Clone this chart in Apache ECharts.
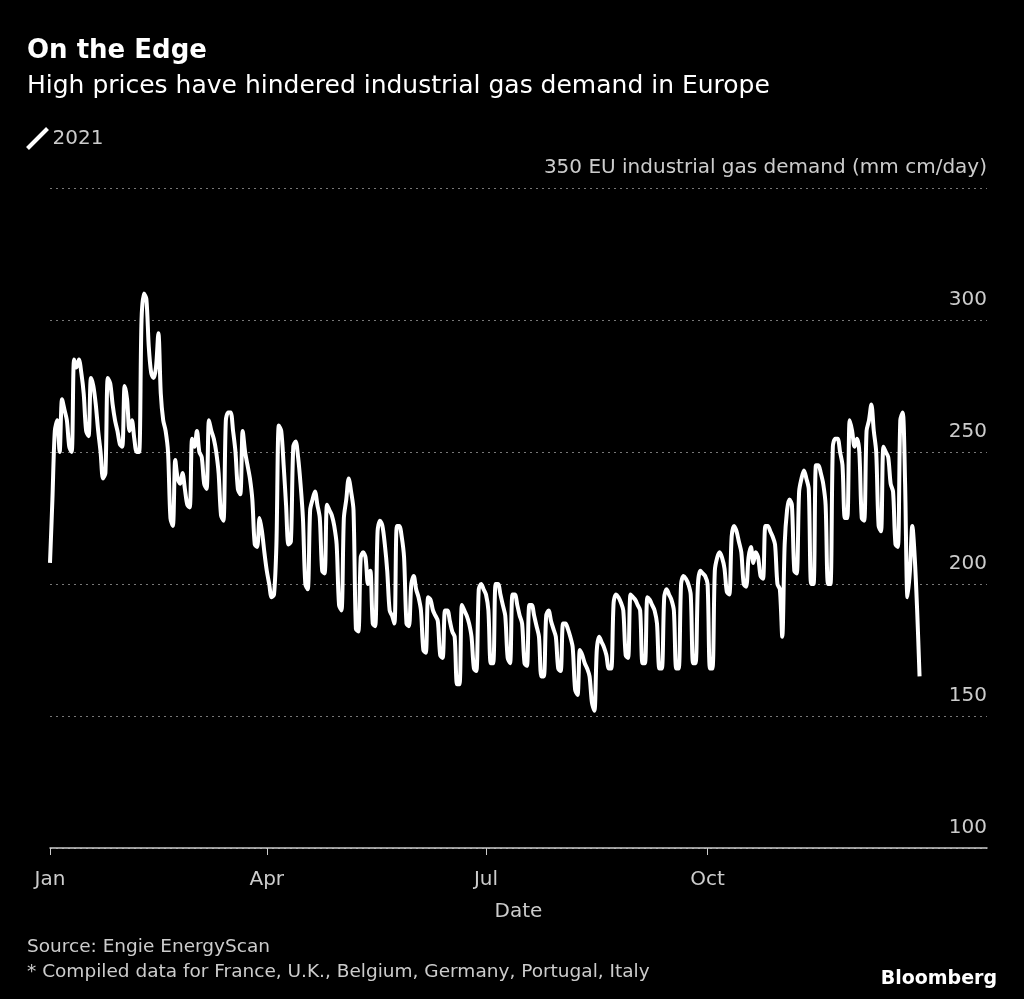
<!DOCTYPE html>
<html>
<head>
<meta charset="utf-8">
<script src="https://cdn.jsdelivr.net/npm/echarts@6/dist/echarts.min.js"></script>
<style>
  html, body { margin: 0; padding: 0; background: #000; }
  #chart { width: 1024px; height: 999px; }
</style>
</head>
<body>
<div id="chart"></div>
<script>
// daily values from Fri 1 Jan 2021, one row per week (Mon..Sun)
var demand = [
    208, 232, 258,
    262, 250, 270, 266, 262, 252, 250,
    285, 282, 285, 280, 272, 258, 256,
    278, 275, 268, 258, 250, 240, 242,
    278, 276, 268, 262, 258, 253, 252,
    275, 270, 258, 262, 255, 250, 250,
    300, 310, 308, 290, 280, 278, 282,
    295, 272, 262, 258, 250, 225, 222,
    247, 240, 238, 242, 236, 230, 229,
    255, 252, 258, 250, 248, 238, 236,
    262, 258, 255, 250, 242, 226, 224,
    262, 265, 265, 258, 250, 236, 234,
    258, 250, 245, 240, 232, 215, 214,
    225, 220, 212, 205, 200, 195, 196,
    215, 260, 258, 245, 230, 215, 216,
    252, 254, 248, 238, 225, 200, 198,
    228, 232, 235, 230, 225, 205, 204,
    230, 228, 226, 222, 215, 192, 190,
    225, 232, 240, 235, 228, 183, 182,
    210, 212, 210, 200, 205, 185, 184,
    220, 224, 222, 215, 205, 190, 188,
    185, 222, 222, 218, 210, 185, 184,
    200, 203, 198, 195, 190, 175, 174,
    195, 194, 190, 188, 186, 173, 172,
    190, 190, 186, 182, 180, 162, 162,
    192, 190, 188, 185, 180, 168, 167,
    198, 200, 198, 196, 190, 170, 170,
    200, 200, 196, 192, 188, 172, 170,
    196, 196, 192, 188, 185, 170, 169,
    192, 192, 188, 184, 180, 165, 165,
    188, 190, 186, 183, 180, 168, 167,
    185, 185, 183, 180, 176, 160, 158,
    175, 173, 170, 168, 165, 155, 152,
    175, 180, 178, 176, 173, 168, 168,
    193, 196, 195, 193, 190, 173, 172,
    196, 195, 194, 192, 190, 170, 170,
    195, 194, 192, 190, 185, 168, 168,
    195, 198, 196, 194, 190, 168, 168,
    200, 203, 202, 200, 196, 170, 170,
    200, 205, 204, 203, 200, 168, 168,
    205, 210, 212, 210, 206, 197, 196,
    218, 222, 220, 216, 212, 200, 199,
    210, 214, 208, 212, 210, 203, 202,
    222, 222, 220, 218, 215, 200, 198,
    180, 215, 228, 232, 230, 205, 204,
    235, 240, 243, 240, 236, 200, 200,
    245, 245, 242, 238, 230, 200, 200,
    252, 255, 255, 250, 245, 225, 225,
    262, 258, 252, 255, 250, 225, 224,
    258, 262, 268, 258, 250, 222, 220,
    252, 250, 248, 238, 235, 215, 214,
    262, 265, 238, 195, 205, 222, 210,
    190, 165
];
// x ticks: day of year (0 = 1 Jan) and label
var xTickDays = [0, 90, 181, 273];
var xTickLabels = ['Jan', 'Apr', 'Jul', 'Oct'];
var xMaxDay = 389;
var yTicks = [100, 150, 200, 250, 300, 350];

var points = demand.map(function (v, i) { return [i, v]; });

var font = '"DejaVu Sans", sans-serif';
var chart = echarts.init(document.getElementById('chart'));
chart.setOption({
    backgroundColor: '#000',
    animation: false,
    textStyle: { fontFamily: font },
    title: [
        { text: 'On the Edge', left: 22, top: 33, textStyle: { color: '#fff', fontSize: 26, fontWeight: 'bold', fontFamily: font } },
        { text: 'High prices have hindered industrial gas demand in Europe', left: 22, top: 69, textStyle: { color: '#fff', fontSize: 25, fontWeight: 'normal', fontFamily: font } },
        { text: 'Source: Engie EnergyScan', left: 22, top: 933, textStyle: { color: '#ccc', fontSize: 18.5, fontWeight: 'normal', fontFamily: font } },
        { text: '* Compiled data for France, U.K., Belgium, Germany, Portugal, Italy', left: 22, top: 958, textStyle: { color: '#ccc', fontSize: 18.5, fontWeight: 'normal', fontFamily: font } },
        { text: 'Bloomberg', right: 22, top: 965, textStyle: { color: '#fff', fontSize: 19, fontWeight: 'bold', fontFamily: font } }
    ],
    legend: {
        left: 20, top: 121, itemWidth: 20, itemHeight: 20,
        icon: 'path://M2,18 L18,2',
        data: [{ name: '2021', itemStyle: { color: 'none', borderColor: '#fff', borderWidth: 4 } }],
        textStyle: { color: '#ccc', fontSize: 20 }
    },
    grid: { left: 50, right: 37, top: 188, bottom: 151 },
    xAxis: {
        type: 'value',
        min: 0,
        max: xMaxDay,
        name: 'Date',
        nameLocation: 'middle',
        nameGap: 54,
        nameTextStyle: { color: '#ccc', fontSize: 20 },
        axisLine: { lineStyle: { color: '#ccc', width: 1.5 } },
        axisTick: { show: true, customValues: xTickDays, length: 7, lineStyle: { color: '#ccc' } },
        axisLabel: {
            customValues: xTickDays, color: '#ccc', fontSize: 20, margin: 22,
            formatter: function (v) { return xTickLabels[xTickDays.indexOf(v)]; }
        },
        splitLine: { show: false }
    },
    yAxis: {
        type: 'value',
        position: 'right',
        min: yTicks[0], max: yTicks[yTicks.length - 1], interval: 50,
        axisLine: { show: false },
        axisTick: { show: false },
        axisLabel: {
            inside: true, verticalAlign: 'bottom', margin: 0, color: '#ccc', fontSize: 20,
            padding: [0, 0, 10, 0],
            formatter: function (v) { return v === 350 ? '350 EU industrial gas demand (mm cm/day)' : String(v); }
        },
        splitLine: { lineStyle: { color: '#777', type: [2, 4], width: 1 } }
    },
    series: [{
        name: '2021',
        type: 'line',
        data: points,
        symbol: 'none',
        smooth: 0.3,
        lineStyle: { color: '#fff', width: 4 }
    }]
});
</script>
</body>
</html>
